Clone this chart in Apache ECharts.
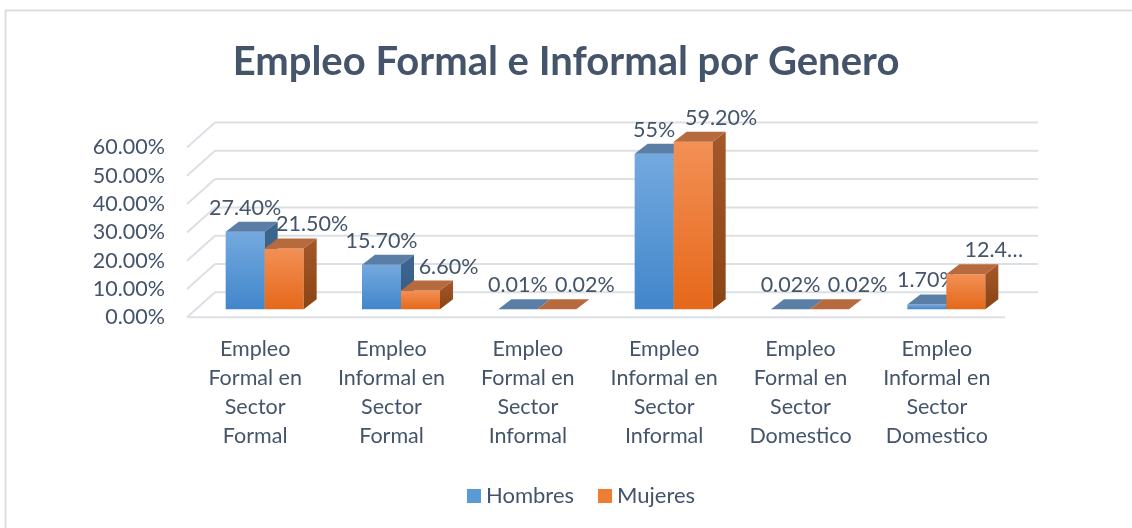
<!DOCTYPE html>
<html>
<head>
<meta charset="utf-8">
<script src="https://cdn.jsdelivr.net/npm/echarts@6/dist/echarts.min.js"></script>
<style>
  html, body { margin: 0; padding: 0; background: #fff; }
  #chart { width: 1132px; height: 528px; }
</style>
</head>
<body>
<div id="chart"></div>
<script>
var categories = [
  "Empleo Formal en Sector Formal",
  "Empleo Informal en Sector Formal",
  "Empleo Formal en Sector Informal",
  "Empleo Informal en Sector Informal",
  "Empleo Formal en Sector Domestico",
  "Empleo Informal en Sector Domestico"
];
var hombres = [0.274, 0.157, 0.0001, 0.55, 0.0002, 0.017];
var mujeres = [0.215, 0.066, 0.0002, 0.592, 0.0002, 0.124];
var hombresLabels = ["27.40%", "15.70%", "0.01%", "55%", "0.02%", "1.70%"];
var mujeresLabels = ["21.50%", "6.60%", "0.02%", "59.20%", "0.02%", "12.4…"];
var yTicks = [0, 0.1, 0.2, 0.3, 0.4, 0.5, 0.6];

// fake 3d geometry (px)
var BAR_W = 39;
var SHIFT = 9.5;   // bars sit a bit behind the front edge of the floor
var LIFT = 8;
var DX = 13, DY = 10;        // bar depth
var WALL_X = 28, WALL_Y = 25; // back wall offset
var TEXT = "#44546a";
var FONT = "Lato";
var FS = 21.5;

var palettes = [
  { top: "#74a9df", bottom: "#4186cb", cap: "#5a7ea6", side: "#3d6690", side2: "#345a80" },
  { top: "#f39055", bottom: "#e5681a", cap: "#b86a3f", side: "#a5582a", side2: "#8a4413" }
];

function wrapName(name) {
  return name.replace(/^(\S+) (.+ en) (\S+) (\S+)$/, "$1\n$2\n$3\n$4");
}

function barRenderer(idx, labels) {
  var p = palettes[idx];
  return function (params, api) {
    var i = api.value(0), v = api.value(1);
    var base = api.coord([i, 0]);
    var top = api.coord([i, v]);
    var cx = base[0] + SHIFT;
    var x0 = idx === 0 ? cx - BAR_W : cx;
    var x1 = x0 + BAR_W;
    var yb = base[1] - LIFT;
    var yt = top[1] - LIFT;
    var children = [
      {
        type: "rect",
        shape: { x: x0, y: yt, width: BAR_W, height: Math.max(yb - yt, 0.01) },
        style: {
          fill: { type: "linear", x: 0, y: 0, x2: 0, y2: 1,
            colorStops: [{ offset: 0, color: p.top }, { offset: 1, color: p.bottom }] }
        }
      },
      {
        type: "polygon",
        shape: { points: [[x0, yt], [x0 + DX, yt - DY], [x1 + DX, yt - DY], [x1, yt]] },
        style: { fill: p.cap }
      },
      {
        type: "polygon",
        shape: { points: [[x1, yt], [x1 + DX, yt - DY], [x1 + DX, yb - DY], [x1, yb]] },
        style: {
          fill: { type: "linear", x: 0, y: 0, x2: 0, y2: 1,
            colorStops: [{ offset: 0, color: p.side }, { offset: 1, color: p.side2 }] }
        }
      },
      {
        type: "text",
        x: (x0 + x1) / 2 + (idx === 0 ? 0 : 28),
        y: yt - 24,
        style: {
          text: labels[params.dataIndex],
          fill: TEXT, fontSize: FS, fontFamily: FONT,
          align: "center", verticalAlign: "middle"
        }
      }
    ];
    return { type: "group", children: children };
  };
}

function wallRenderer(params, api) {
  var cs = params.coordSys;
  var v = api.value(1);
  var y = api.coord([0, v])[1];
  var line = { stroke: "#dcdfe4", lineWidth: 2 };
  var children = [
    { type: "line", shape: { x1: cs.x + WALL_X, y1: y - WALL_Y, x2: cs.x + cs.width + WALL_X + 5, y2: y - WALL_Y }, style: line },
    { type: "line", shape: { x1: cs.x, y1: y, x2: cs.x + WALL_X, y2: y - WALL_Y }, style: line }
  ];
  if (v === 0) {
    children.push({ type: "line", shape: { x1: cs.x, y1: y, x2: cs.x + cs.width, y2: y }, style: line });
  }
  return { type: "group", children: children };
}

var chart = echarts.init(document.getElementById("chart"));
chart.setOption({
  animation: false,
  textStyle: { fontFamily: FONT },
  title: {
    text: "Empleo Formal e Informal por Genero",
    left: "center",
    top: 33,
    textStyle: { fontSize: 40, fontWeight: "bold", color: TEXT, fontFamily: FONT, lineHeight: 48 }
  },
  graphic: [{
    type: "rect", silent: true,
    shape: { x: 5.5, y: 10.5, width: 1200, height: 600 },
    style: { fill: "none", stroke: "#dadde2", lineWidth: 2 }
  }],
  legend: {
    data: ["Hombres", "Mujeres"],
    left: 462,
    top: 480,
    icon: "rect",
    itemWidth: 14,
    itemHeight: 14,
    itemGap: 24,
    textStyle: { fontSize: 22, color: TEXT, fontFamily: FONT }
  },
  grid: { left: 187, right: 127, top: 147.5, bottom: 210.7 },
  xAxis: {
    type: "category",
    data: categories,
    axisLine: { show: false },
    axisTick: { show: false },
    axisLabel: {
      interval: 0,
      margin: 17,
      fontSize: FS,
      lineHeight: 29,
      color: TEXT,
      fontFamily: FONT,
      formatter: wrapName
    }
  },
  yAxis: {
    type: "value",
    min: 0,
    max: 0.6,
    interval: 0.1,
    axisLine: { show: false },
    axisTick: { show: false },
    splitLine: { show: false },
    axisLabel: {
      margin: 22,
      fontSize: FS,
      color: TEXT,
      fontFamily: FONT,
      formatter: function (v) { return (v * 100).toFixed(2) + "%"; }
    }
  },
  series: [
    {
      type: "custom",
      name: "walls",
      silent: true,
      z: 1,
      renderItem: wallRenderer,
      data: yTicks.map(function (t) { return [0, t]; })
    },
    {
      type: "custom",
      name: "Hombres",
      z: 2,
      itemStyle: { color: "#5b9bd5" },
      renderItem: barRenderer(0, hombresLabels),
      encode: { x: 0, y: 1 },
      data: hombres.map(function (v, i) { return [i, v]; })
    },
    {
      type: "custom",
      name: "Mujeres",
      z: 2,
      itemStyle: { color: "#ed7d31" },
      renderItem: barRenderer(1, mujeresLabels),
      encode: { x: 0, y: 1 },
      data: mujeres.map(function (v, i) { return [i, v]; })
    }
  ]
});
</script>
</body>
</html>
